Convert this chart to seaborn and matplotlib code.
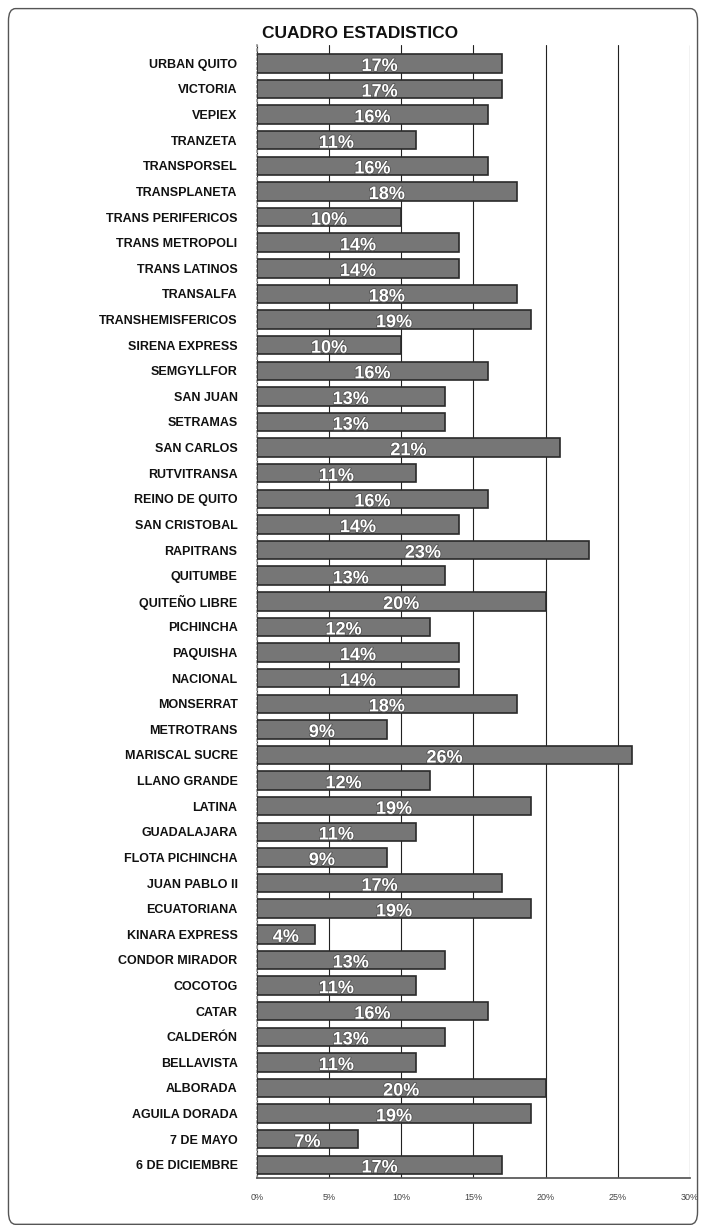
import matplotlib
matplotlib.use("Agg")
import matplotlib.pyplot as plt
import seaborn as sns
import pandas as pd
from matplotlib.patches import FancyBboxPatch
import matplotlib.patheffects as pe

categories = ["URBAN QUITO", "VICTORIA", "VEPIEX", "TRANZETA", "TRANSPORSEL", "TRANSPLANETA",
              "TRANS PERIFERICOS", "TRANS METROPOLI", "TRANS LATINOS", "TRANSALFA",
              "TRANSHEMISFERICOS", "SIRENA EXPRESS", "SEMGYLLFOR", "SAN JUAN", "SETRAMAS",
              "SAN CARLOS", "RUTVITRANSA", "REINO DE QUITO", "SAN CRISTOBAL", "RAPITRANS",
              "QUITUMBE", "QUITEÑO LIBRE", "PICHINCHA", "PAQUISHA", "NACIONAL", "MONSERRAT",
              "METROTRANS", "MARISCAL SUCRE", "LLANO GRANDE", "LATINA", "GUADALAJARA",
              "FLOTA PICHINCHA", "JUAN PABLO II", "ECUATORIANA", "KINARA EXPRESS",
              "CONDOR MIRADOR", "COCOTOG", "CATAR", "CALDERÓN", "BELLAVISTA", "ALBORADA",
              "AGUILA DORADA", "7 DE MAYO", "6 DE DICIEMBRE"]
values = [17, 17, 16, 11, 16, 18, 10, 14, 14, 18, 19, 10, 16, 13, 13, 21, 11, 16, 14, 23,
          13, 20, 12, 14, 14, 18, 9, 26, 12, 19, 11, 9, 17, 19, 4, 13, 11, 16, 13, 11, 20,
          19, 7, 17]
x_ticks = [0, 5, 10, 15, 20, 25, 30]
title = "CUADRO ESTADISTICO"

df = pd.DataFrame({"cat": categories, "val": values})

sns.set_theme(style="white")
plt.rcParams['font.family'] = ['Liberation Sans Narrow', 'Liberation Sans', 'DejaVu Sans']

fig = plt.figure(figsize=(7.06, 12.28), dpi=100)
ax = fig.add_axes([0.364, 0.041, 0.613, 0.922])

sns.barplot(data=df, y="cat", x="val", orient="h", color="#767676", saturation=1,
            edgecolor="#2a2a2a", linewidth=1.2, width=0.72, ax=ax, zorder=3)

for i, v in enumerate(values):
    ax.text(v / 2, i + 0.12, f"{v}%", ha="center", va="center", color="white",
            fontsize=13, fontweight="bold", zorder=5,
            path_effects=[pe.withStroke(linewidth=1.2, foreground="#555555")])

ax.set_xlim(0, 30)
ax.set_xticks(x_ticks)
ax.set_xticklabels([f"{t}%" for t in x_ticks], fontsize=6.5, color="#444444")
ax.set_ylim(len(categories) - 0.5, -0.7)
ax.set_xlabel("")
ax.set_ylabel("")
ax.tick_params(axis="y", labelsize=9, length=0, pad=14)
for lab in ax.get_yticklabels():
    lab.set_fontweight("bold")
    lab.set_color("#111111")
ax.tick_params(axis="x", length=3, pad=8)

ax.grid(axis="x", color="#222222", linewidth=0.8, zorder=0)
ax.grid(axis="y", visible=False)
for s in ["top", "right"]:
    ax.spines[s].set_visible(False)
ax.spines["left"].set_color("#999999")
ax.spines["left"].set_linestyle(":")
ax.spines["bottom"].set_color("#555555")

fig.text(0.51, 0.973, title, ha="center", va="center", fontsize=12.5,
         fontweight="bold", color="#111111")

border = FancyBboxPatch((0.012, 0.003), 0.976, 0.99, boxstyle="round,pad=0,rounding_size=0.01",
                        transform=fig.transFigure, fill=False, edgecolor="#555555",
                        linewidth=1.0, zorder=0)
fig.patches.append(border)

fig.savefig("out.png", dpi=100, facecolor="white")
